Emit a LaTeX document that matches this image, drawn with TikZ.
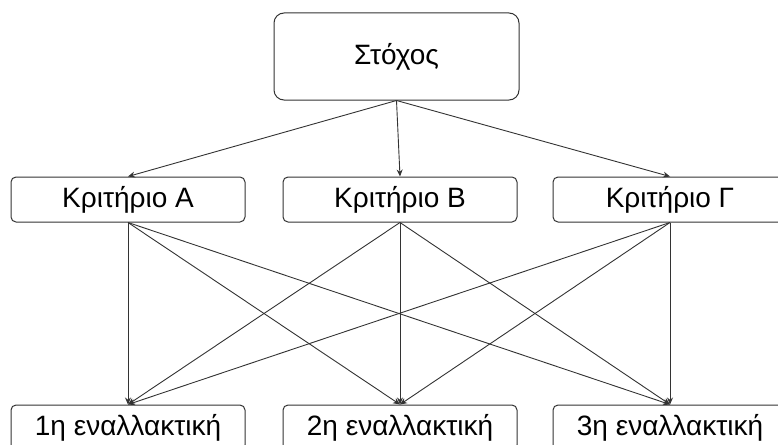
\documentclass[tikz,border=0pt]{standalone}
\usepackage{fontspec}
\setmainfont{Liberation Sans}
\usepackage{xcolor}
\usetikzlibrary{arrows.meta,positioning}
\definecolor{edgegray}{HTML}{333333}
\begin{document}
\begin{tikzpicture}[x=1pt,y=-1pt,font=\fontsize{28}{32}\selectfont,>={Stealth[length=7pt,width=6pt]},
  box/.style={draw=edgegray,line width=1pt,rounded corners=5pt,minimum width=234pt,minimum height=45pt,inner sep=0pt},
  goalbox/.style={draw=edgegray,line width=1pt,rounded corners=10pt,minimum width=245pt,minimum height=87pt,inner sep=0pt},
  link/.style={->,draw=edgegray,line width=0.9pt}]
  \useasboundingbox (0,0) rectangle (778,444);
  \clip (0,0) rectangle (778,444);
  \node[goalbox] (goal) at (396.5,56.5) {Στόχος};
  \node[box] (critA) at (128,199.5) {Κριτήριο A};
  \node[box] (critB) at (400,199.5) {Κριτήριο B};
  \node[box] (critC) at (670,199.5) {Κριτήριο Γ};
  \node[box] (alt1) at (128,427.5) {1η εναλλακτική};
  \node[box] (alt2) at (400,427.5) {2η εναλλακτική};
  \node[box] (alt3) at (670,427.5) {3η εναλλακτική};
  \draw[link] (goal.south) -- (critA.north);  \draw[link] (goal.south) -- (critB.north);
  \draw[link] (goal.south) -- (critC.north);
  \draw[link] (critA.south) -- (alt1.north);  \draw[link] (critA.south) -- (alt2.north);
  \draw[link] (critA.south) -- (alt3.north);
  \draw[link] (critB.south) -- (alt1.north);  \draw[link] (critB.south) -- (alt2.north);
  \draw[link] (critB.south) -- (alt3.north);
  \draw[link] (critC.south) -- (alt1.north);  \draw[link] (critC.south) -- (alt2.north);
  \draw[link] (critC.south) -- (alt3.north);
\end{tikzpicture}
\end{document}
